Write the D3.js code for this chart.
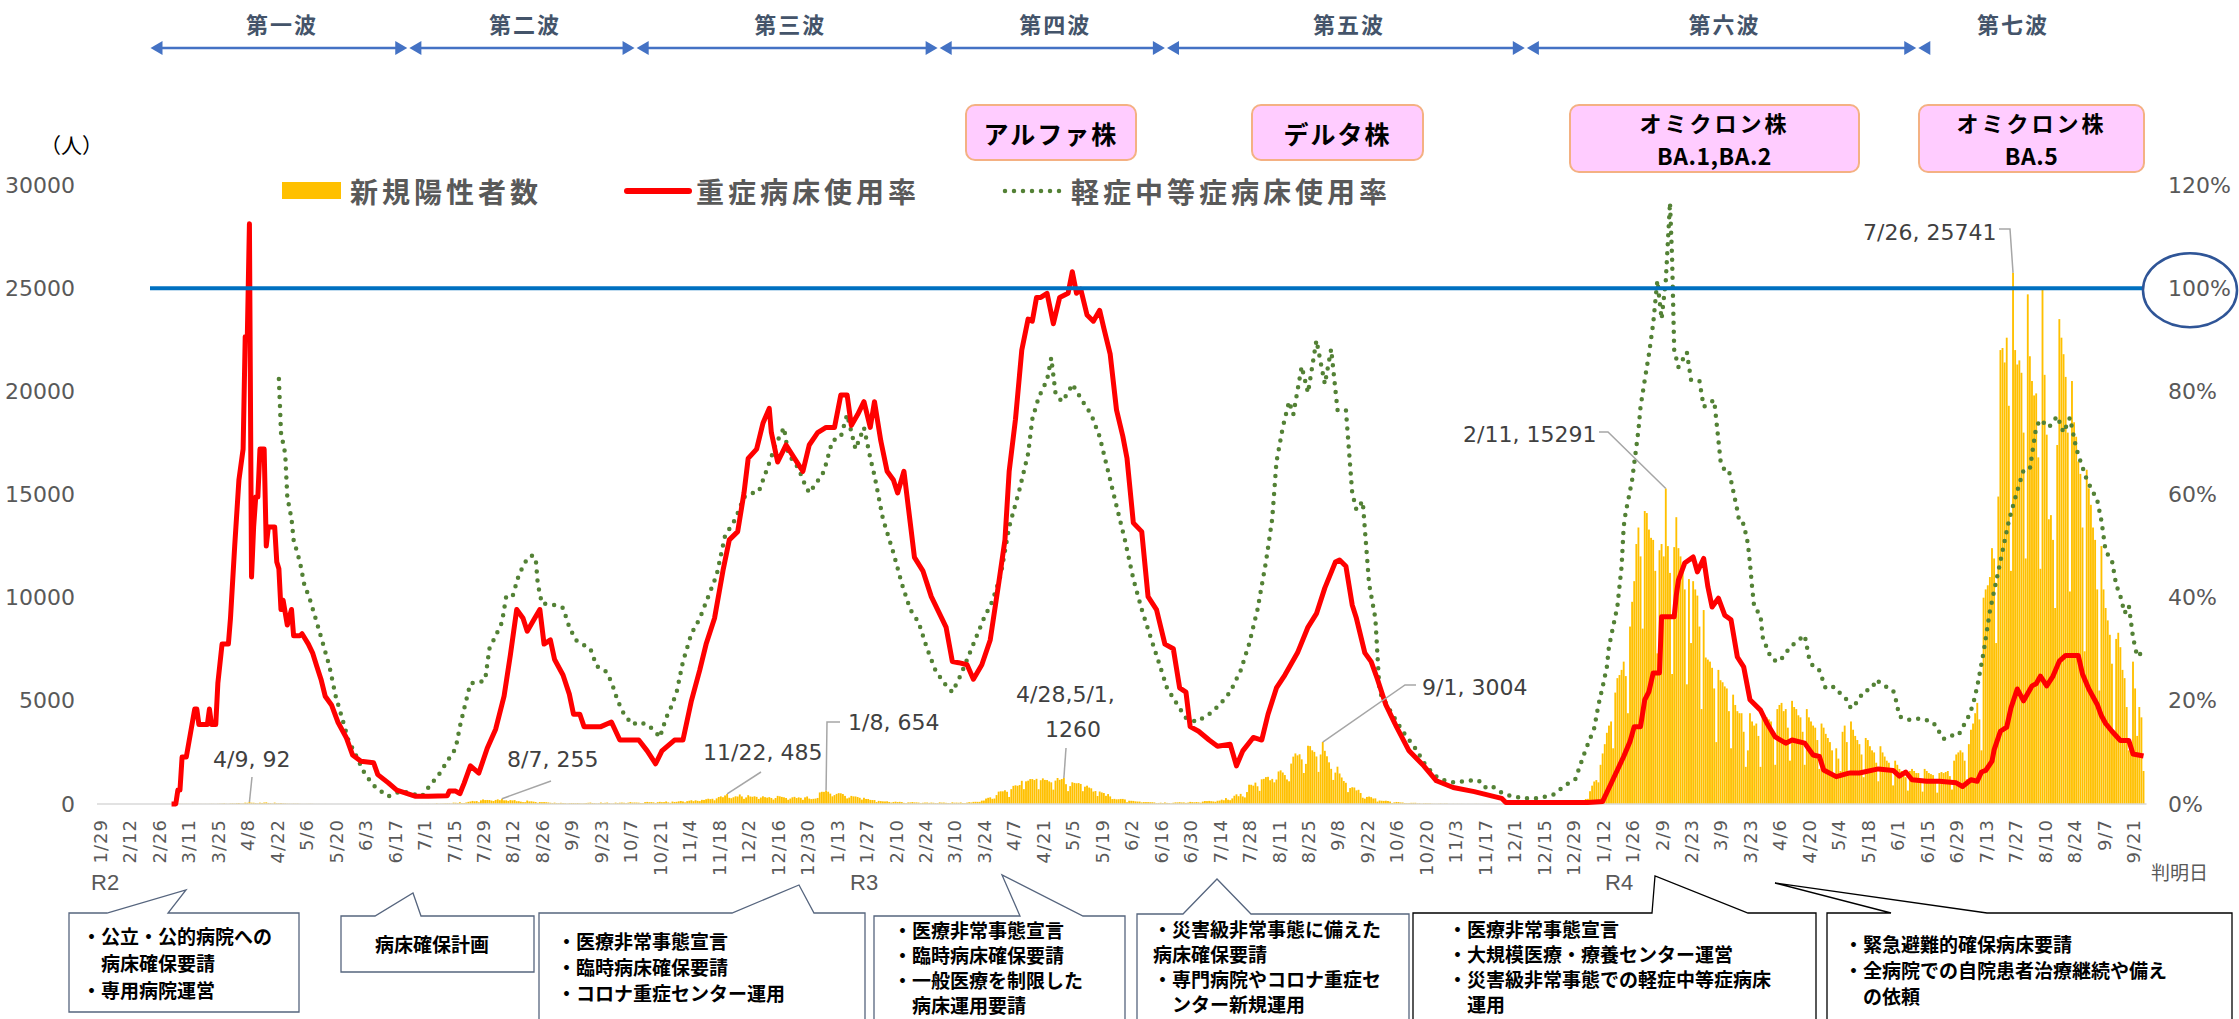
<!DOCTYPE html>
<html>
<head>
<meta charset="utf-8">
<script src="https://cdn.jsdelivr.net/npm/d3@7"></script>
<style>
  body { margin: 0; background: #fff; }
  svg { display: block; }
</style>
</head>
<body>
<div id="root"></div>
<script>
// first day of the daily series, last labelled tick
const firstDay = '2020-01-29';
const lastTick = '2022-09-21';

// 新規陽性者数, daily, one row per week (Wed..Tue) from 2020-01-29
const newCases = [
  1,0,0,0,0,0,0, 0,0,0,0,0,0,0, 0,0,0,0,0,0,0, 0,0,0,0,0,0,0,
  0,0,0,2,2,3,4, 5,8,12,10,7,6,8, 6,5,9,6,3,8,6, 5,6,4,8,12,9,5,
  12,17,20,30,14,11,28, 34,26,41,48,24,27,65, 58,92,62,60,46,34,64, 50,71,80,51,41,23,67,
  38,36,48,30,27,19,17, 14,20,17,18,9,5,4, 6,8,12,9,3,3,4, 1,2,3,1,0,2,0,
  0,2,1,0,0,0,1, 0,0,1,0,0,1,1, 0,2,1,0,0,0,1, 0,1,2,1,3,0,1,
  1,2,2,3,1,2,0, 2,3,5,8,3,6,8, 4,8,12,6,8,9,32, 11,18,21,28,32,30,20,
  66,61,51,87,47,49,72, 104,121,149,130,141,85,177, 221,190,195,194,166,144,196, 225,186,255,178,180,149,187,
  173,188,133,136,112,90,88, 169,126,130,114,98,58,94, 89,92,86,74,60,46,65, 44,40,57,45,38,22,39,
  49,47,39,48,34,26,33, 49,58,69,48,42,27,35, 71,47,57,70,40,25,30, 65,49,63,68,60,40,64,
  92,69,72,70,64,43,41, 90,102,87,92,80,50,88, 106,88,91,124,80,55,118, 99,106,129,147,125,79,137,
  158,181,139,179,153,140,201, 196,231,256,236,253,179,273, 338,370,329,415,485,299,280, 326,372,362,463,367,249,318,
  427,363,349,373,346,246,313, 374,332,308,332,292,214,290, 393,372,343,324,290,207,264, 324,347,289,321,299,203,322,
  364,262,237,250,262,293,560, 592,589,654,595,503,372,431, 490,525,519,482,394,271,310, 392,368,365,337,301,213,302,
  244,244,200,192,190,95,152, 140,128,124,131,100,70,99, 114,94,105,93,56,38,76, 77,94,77,77,68,40,59,
  70,70,54,68,60,46,44, 78,66,69,56,47,43,80, 62,66,59,74,48,40,66, 88,74,103,107,104,104,164,
  168,264,300,323,251,266,432, 599,616,613,666,593,341,719, 878,905,883,918,1124,719,1099, 1130,1208,1209,1161,1220,717,1153,
  1242,1167,1162,1097,1050,696,1134, 1260,1171,1209,1260,961,624,867, 1052,1021,1003,1015,971,621,839, 888,797,760,603,628,386,606,
  560,532,396,482,368,238,248, 227,231,246,246,221,86,159, 156,150,128,119,118,79,92, 92,90,86,85,75,43,51,
  63,49,74,53,45,27,60, 78,77,88,75,76,54,68, 103,91,83,96,82,63,117, 145,140,150,136,125,108,158,
  165,210,182,287,209,185,271, 399,468,378,491,367,319,579, 935,932,889,1036,860,637,1198, 1219,1303,1317,1150,1217,1050,1185,
  1576,1631,1528,1403,1191,1101,1958, 2296,2451,2356,2410,2164,1504,1944, 2824,2806,2602,2526,2303,1556,2400, 3004,2578,2313,2019,1704,1167,1522,
  1809,1479,1286,1113,1028,576,772, 812,799,659,690,532,302,260, 342,360,332,266,273,117,168, 158,150,159,145,117,50,79,
  99,94,74,71,48,39,42, 56,56,58,31,37,17,33, 36,31,32,17,14,11,15, 24,14,21,20,6,5,10,
  5,9,6,8,5,2,6, 4,5,6,9,6,4,5, 8,7,10,4,4,2,4, 6,4,9,6,2,4,9,
  5,6,8,5,4,3,5, 8,7,4,5,5,2,3, 7,9,6,5,10,4,13, 10,8,9,10,7,8,15,
  22,25,38,41,48,103,244, 250,620,890,1090,1160,1050,1900, 2450,2900,3450,3800,4000,2700,5400, 6100,6250,6500,6900,6200,4400,8600,
  9800,10800,12600,13400,12000,8500,14200, 14100,13300,12900,12800,11300,7300,12300, 12600,12000,15291,12500,11200,6300,12450, 13900,12400,12000,11700,10400,5800,10900,
  7800,10800,10400,10100,8600,4600,9400, 7100,7000,6900,6600,5600,3000,6500, 6000,5900,5700,5600,4500,2700,5300, 4800,4500,4400,4400,3500,1800,2600,
  4400,4000,3800,3900,3300,1800,4500, 4300,4200,4100,4000,3400,1900,4600, 4800,4900,4500,4600,3700,2100,5000, 4700,4600,4300,4200,3500,1900,4600,
  4200,4000,3800,3700,3100,1700,3900, 3700,3400,3200,3000,2600,1400,2700, 2200,1600,3500,3800,3000,1500,4000, 3600,3300,3100,2900,2400,1300,3200,
  3100,2800,2600,2500,2000,1100,2800, 2500,2300,2100,2000,1600,900,2100, 1900,1700,1600,1500,1300,650,1600, 1700,1600,1500,1500,1200,600,1700,
  1600,1500,1450,1400,1150,550,1500, 1550,1500,1550,1600,1350,700,2100, 2400,2500,2600,2500,2100,1200,2900, 3600,3900,4400,4900,4100,2600,10000,
  10400,10600,11000,12400,11900,7800,14900, 22000,22100,21400,22600,19300,11300,25741, 22000,21300,21500,20900,18000,11900,24700, 21700,20500,19800,19900,16800,11400,25000,
  20800,17900,13800,14000,12800,9500,17400, 23500,22600,21800,20700,18000,10300,20500, 18500,17800,16600,16000,13400,7400,16200, 15300,14500,13400,12800,10400,5500,12500,
  10400,9500,8900,8200,6800,3300,8000, 8300,7600,6500,6100,4700,2600,3000, 6900,5600,3300,4700,4200,1600
];

// 重症病床使用率 (%)
const severeRate = [
  ['2020-03-03',0],['2020-03-05',0],['2020-03-06',2.7],['2020-03-07',2.7],['2020-03-08',9.1],['2020-03-10',9.1],['2020-03-14',18.4],['2020-03-15',18.4],
  ['2020-03-16',15.4],['2020-03-20',15.4],['2020-03-21',18.4],['2020-03-22',15.4],['2020-03-24',15.4],['2020-03-25',23.4],['2020-03-27',31],['2020-03-30',31],
  ['2020-03-31',36],['2020-04-02',50],['2020-04-04',62.8],['2020-04-06',68.8],['2020-04-07',90.6],['2020-04-08',90.6],['2020-04-09',112.5],['2020-04-10',44],
  ['2020-04-11',53.7],['2020-04-12',59.5],['2020-04-13',59.5],['2020-04-14',68.8],['2020-04-16',68.8],['2020-04-17',50],['2020-04-18',53.7],['2020-04-21',53.7],
  ['2020-04-22',46.9],['2020-04-23',45.6],['2020-04-24',37.7],['2020-04-25',39.5],['2020-04-27',34.7],['2020-04-29',37.7],['2020-04-30',32.6],['2020-05-03',32.6],
  ['2020-05-04',33],['2020-05-07',31],['2020-05-09',29.3],['2020-05-11',26.7],['2020-05-13',24.2],['2020-05-15',20.9],['2020-05-18',19.2],['2020-05-21',15.9],
  ['2020-05-25',12.9],['2020-05-28',9.5],['2020-06-01',8.3],['2020-06-07',8],['2020-06-09',5.7],['2020-06-14',4.1],['2020-06-18',2.7],['2020-06-27',1.5],
  ['2020-07-03',1.5],['2020-07-12',1.6],['2020-07-13',2.5],['2020-07-16',2.5],['2020-07-18',2],['2020-07-20',4],['2020-07-23',7.4],['2020-07-27',6],
  ['2020-07-31',10.8],['2020-08-04',14.5],['2020-08-08',20.9],['2020-08-11',28.9],['2020-08-14',37.7],['2020-08-17',36],['2020-08-19',33.5],['2020-08-22',35.6],
  ['2020-08-25',37.7],['2020-08-27',31],['2020-08-30',31.8],['2020-09-01',28],['2020-09-05',25],['2020-09-08',21.3],['2020-09-10',17.4],['2020-09-13',17.4],
  ['2020-09-15',15],['2020-09-23',15],['2020-09-28',15.9],['2020-10-02',12.4],['2020-10-11',12.4],['2020-10-15',10.3],['2020-10-19',7.8],['2020-10-22',10.3],
  ['2020-10-28',12.4],['2020-11-01',12.4],['2020-11-05',20],['2020-11-09',26],['2020-11-12',31],['2020-11-16',36],['2020-11-20',45.2],['2020-11-23',51.2],
  ['2020-11-27',52.8],['2020-11-30',60.3],['2020-12-02',67],['2020-12-06',68.8],['2020-12-09',73.8],['2020-12-12',76.7],['2020-12-13',72],['2020-12-16',66.3],
  ['2020-12-20',69.6],['2020-12-24',67],['2020-12-28',64.5],['2020-12-31',69.6],['2021-01-04',72],['2021-01-08',73],['2021-01-12',73],['2021-01-15',79.3],
  ['2021-01-18',79.3],['2021-01-20',73.4],['2021-01-23',75.5],['2021-01-26',78],['2021-01-29',73],['2021-01-31',78],['2021-02-03',70.4],['2021-02-06',64.5],
  ['2021-02-09',62.8],['2021-02-11',60.3],['2021-02-14',64.5],['2021-02-17',54.5],['2021-02-19',47.8],['2021-02-23',45.2],['2021-02-27',40.2],['2021-03-04',36],
  ['2021-03-06',34.3],['2021-03-09',27.6],['2021-03-12',27.4],['2021-03-16',27],['2021-03-19',24.2],['2021-03-23',27],['2021-03-27',31.8],['2021-03-31',42.7],
  ['2021-04-03',51.2],['2021-04-05',64.5],['2021-04-08',74.6],['2021-04-11',88],['2021-04-14',94],['2021-04-16',93.6],['2021-04-18',98.2],['2021-04-20',98.2],
  ['2021-04-23',99],['2021-04-26',93.1],['2021-04-29',98.2],['2021-05-03',99],['2021-05-05',103.2],['2021-05-07',99],['2021-05-09',99.8],['2021-05-12',94.8],
  ['2021-05-15',93.6],['2021-05-18',95.7],['2021-05-20',92.2],['2021-05-23',87.2],['2021-05-26',76.4],['2021-05-29',71.3],['2021-05-31',67],['2021-06-03',54.5],
  ['2021-06-07',52.8],['2021-06-10',40.2],['2021-06-14',37.7],['2021-06-18',31],['2021-06-22',30.1],['2021-06-25',22.5],['2021-06-28',21.7],['2021-06-30',15],
  ['2021-07-04',14.1],['2021-07-09',12.4],['2021-07-13',11.2],['2021-07-19',11.6],['2021-07-22',7.4],['2021-07-25',10.3],['2021-07-30',12.9],['2021-08-03',12.4],
  ['2021-08-06',17.4],['2021-08-10',22.5],['2021-08-14',25],['2021-08-20',29.3],['2021-08-25',34.3],['2021-08-29',36.9],['2021-09-02',41.9],['2021-09-07',46.9],
  ['2021-09-09',47.3],['2021-09-12',46.1],['2021-09-15',38.6],['2021-09-17',36],['2021-09-21',29.3],['2021-09-24',27.6],['2021-09-27',24.2],['2021-10-01',19.2],
  ['2021-10-06',15],['2021-10-12',10.3],['2021-10-19',7.4],['2021-10-25',4.5],['2021-11-02',3.2],['2021-11-12',2.4],['2021-11-25',1.1],['2021-11-27',0.3],
  ['2021-12-18',0.3],['2022-01-05',0.3],['2022-01-12',0.5],['2022-01-15',3.1],['2022-01-19',6.6],['2022-01-22',9.2],['2022-01-25',12.1],['2022-01-27',15],
  ['2022-01-30',15],['2022-02-01',20.2],['2022-02-03',21.8],['2022-02-05',25.4],['2022-02-08',25.4],['2022-02-09',36.3],['2022-02-15',36.3],['2022-02-16',40.5],
  ['2022-02-17',43.4],['2022-02-20',46.7],['2022-02-24',47.9],['2022-02-26',45],['2022-03-01',47.6],['2022-03-03',42.1],['2022-03-05',38.2],['2022-03-08',39.9],
  ['2022-03-11',36.6],['2022-03-14',35.7],['2022-03-17',28.5],['2022-03-20',26.6],['2022-03-23',20.2],['2022-03-28',18.2],['2022-03-31',15.7],['2022-04-04',13],
  ['2022-04-09',11.8],['2022-04-12',12.4],['2022-04-18',11.8],['2022-04-22',9.5],['2022-04-25',9.2],['2022-04-27',6.6],['2022-05-03',5.3],['2022-05-09',6],
  ['2022-05-14',6],['2022-05-23',6.8],['2022-05-30',6.5],['2022-06-02',5.4],['2022-06-05',6.2],['2022-06-08',4.7],['2022-06-15',4.4],['2022-06-21',4.4],
  ['2022-06-29',4.1],['2022-07-02',3.4],['2022-07-06',4.7],['2022-07-09',4.4],['2022-07-11',6.2],['2022-07-13',6.5],['2022-07-16',8.3],['2022-07-17',10.5],
  ['2022-07-20',14.1],['2022-07-23',14.9],['2022-07-25',18.6],['2022-07-28',22.3],['2022-07-31',20],['2022-08-04',22.9],['2022-08-06',23.3],['2022-08-08',24.8],
  ['2022-08-11',22.9],['2022-08-14',24.8],['2022-08-17',27.7],['2022-08-20',28.8],['2022-08-23',28.8],['2022-08-26',28.8],['2022-08-28',25.2],['2022-08-31',22.3],
  ['2022-09-04',19.3],['2022-09-06',17.1],['2022-09-08',15.6],['2022-09-11',14.1],['2022-09-15',12.3],['2022-09-19',12.3],['2022-09-21',9.7],['2022-09-26',9.3]
];

// 軽症中等症病床使用率 (%)
const mildRate = [
  ['2020-04-23',82.4],['2020-04-24',72],['2020-04-26',67.9],['2020-04-27',59.5],['2020-04-29',55.3],['2020-04-30',51.2],['2020-05-03',46.9],['2020-05-05',42.7],
  ['2020-05-08',39.3],['2020-05-11',35.2],['2020-05-14',31],['2020-05-17',26.7],['2020-05-20',20.9],['2020-05-23',16.7],['2020-05-26',12.4],['2020-05-30',9.1],
  ['2020-06-03',5.7],['2020-06-08',3.2],['2020-06-14',1.5],['2020-06-20',2.5],['2020-06-25',2],['2020-06-30',1.5],['2020-07-03',3.2],['2020-07-08',5.7],
  ['2020-07-12',8.3],['2020-07-16',10.8],['2020-07-18',15],['2020-07-20',18.4],['2020-07-23',23.4],['2020-07-27',23.6],['2020-07-30',24],['2020-08-01',30.1],
  ['2020-08-04',32.6],['2020-08-07',35.2],['2020-08-09',40.2],['2020-08-12',40.2],['2020-08-15',44.4],['2020-08-18',46.9],['2020-08-21',48.2],['2020-08-23',47.7],
  ['2020-08-24',42.7],['2020-08-26',38.8],['2020-08-29',38.8],['2020-09-02',38.5],['2020-09-05',38],['2020-09-08',34.3],['2020-09-11',31.8],['2020-09-14',31],
  ['2020-09-18',30.1],['2020-09-21',26.7],['2020-09-25',25.9],['2020-09-28',23.7],['2020-10-01',20],['2020-10-04',17.4],['2020-10-08',15.4],['2020-10-11',15.9],
  ['2020-10-15',15.4],['2020-10-19',14],['2020-10-21',12.9],['2020-10-24',16.7],['2020-10-26',18.4],['2020-10-29',21.7],['2020-11-01',27.6],['2020-11-05',33],
  ['2020-11-09',36],['2020-11-13',40.2],['2020-11-17',44.4],['2020-11-21',52],['2020-11-26',55.3],['2020-11-30',59.5],['2020-12-04',60.3],['2020-12-07',60.5],
  ['2020-12-11',65],['2020-12-15',69.6],['2020-12-19',73],['2020-12-21',67.9],['2020-12-26',65],['2020-12-28',62.8],['2020-12-31',60.3],['2021-01-03',62],
  ['2021-01-07',64.5],['2021-01-11',70.4],['2021-01-15',71.2],['2021-01-18',75.5],['2021-01-22',68.8],['2021-01-26',73],['2021-01-29',67.1],['2021-01-31',63.7],
  ['2021-02-04',55.3],['2021-02-09',48.7],['2021-02-13',42.7],['2021-02-17',37.7],['2021-02-21',35.2],['2021-02-25',30.1],['2021-03-01',25.9],['2021-03-05',23.5],
  ['2021-03-09',21.7],['2021-03-13',25],['2021-03-19',31],['2021-03-24',36],['2021-03-28',39.3],['2021-04-01',44.4],['2021-04-05',53.7],['2021-04-10',61.1],
  ['2021-04-14',67.9],['2021-04-16',74.6],['2021-04-19',78.8],['2021-04-23',82.2],['2021-04-25',86.5],['2021-04-27',79.7],['2021-04-30',78],['2021-05-03',79.7],
  ['2021-05-05',81.4],['2021-05-10',78],['2021-05-14',75.5],['2021-05-18',71.2],['2021-05-22',64.5],['2021-05-26',57.8],['2021-05-30',51.2],['2021-06-03',43.6],
  ['2021-06-07',37.7],['2021-06-11',32.6],['2021-06-15',27.6],['2021-06-19',22.5],['2021-06-24',19.2],['2021-06-28',16.7],['2021-07-03',15.9],['2021-07-09',17.4],
  ['2021-07-14',19.2],['2021-07-19',21.7],['2021-07-24',25.9],['2021-07-28',31],['2021-08-01',37.7],['2021-08-05',46.9],['2021-08-08',55.3],['2021-08-10',66.3],
  ['2021-08-13',73],['2021-08-16',78],['2021-08-18',75.5],['2021-08-22',84.8],['2021-08-25',79.7],['2021-08-29',89.9],['2021-09-02',81.4],['2021-09-05',88.2],
  ['2021-09-08',76.4],['2021-09-12',76.4],['2021-09-15',60.3],['2021-09-17',57],['2021-09-20',58.7],['2021-09-23',42.7],['2021-09-26',36],['2021-09-28',21.7],
  ['2021-10-04',17.4],['2021-10-09',14.1],['2021-10-15',10.8],['2021-10-20',7.4],['2021-10-26',4.9],['2021-11-03',4.1],['2021-11-08',4.5],['2021-11-14',4.6],
  ['2021-11-17',3.2],['2021-11-20',3.6],['2021-11-26',1.9],['2021-12-05',1.1],['2021-12-13',1.1],['2021-12-20',1.9],['2021-12-25',3.6],['2021-12-30',4.8],
  ['2022-01-02',8.3],['2022-01-04',10.6],['2022-01-08',14.7],['2022-01-10',19.2],['2022-01-12',22.7],['2022-01-14',26.6],['2022-01-15',30.5],['2022-01-17',34.4],
  ['2022-01-19',38.3],['2022-01-20',42.2],['2022-01-21',46],['2022-01-22',53.8],['2022-01-23',56.7],['2022-01-24',58.6],['2022-01-26',62.8],['2022-01-27',66],
  ['2022-01-28',69.2],['2022-01-29',72.5],['2022-01-30',77],['2022-02-01',82.2],['2022-02-03',87.2],['2022-02-05',93.1],['2022-02-07',101.5],['2022-02-09',94],
  ['2022-02-11',101.5],['2022-02-13',116.6],['2022-02-14',105.7],['2022-02-15',88],['2022-02-17',84.7],['2022-02-21',87.6],['2022-02-23',82.2],['2022-02-27',82],
  ['2022-03-01',77],['2022-03-06',78.3],['2022-03-07',74.4],['2022-03-08',70.5],['2022-03-09',66.6],['2022-03-11',64.6],['2022-03-13',64.6],['2022-03-15',60.8],
  ['2022-03-17',56.9],['2022-03-18',54.6],['2022-03-20',54.3],['2022-03-22',50.5],['2022-03-23',46.6],['2022-03-24',42.1],['2022-03-25',38.2],['2022-03-28',36.6],
  ['2022-03-29',32.4],['2022-04-01',29.2],['2022-04-03',27.9],['2022-04-06',27.6],['2022-04-10',29.8],['2022-04-13',31.1],['2022-04-18',32.7],['2022-04-20',28.5],
  ['2022-04-22',26.6],['2022-04-25',25.9],['2022-04-28',22.4],['2022-05-02',22.7],['2022-05-05',21.4],['2022-05-08',20.2],['2022-05-10',18.5],['2022-05-13',19.8],
  ['2022-05-16',21.8],['2022-05-20',22.4],['2022-05-22',24.1],['2022-05-25',23.1],['2022-05-30',22],['2022-05-31',20.8],['2022-06-02',17],['2022-06-06',16.3],
  ['2022-06-12',16.6],['2022-06-18',15.9],['2022-06-23',12.6],['2022-06-26',13.3],['2022-06-30',13.3],['2022-07-05',17.1],['2022-07-07',19.3],['2022-07-09',22.8],
  ['2022-07-12',29.4],['2022-07-15',37.4],['2022-07-18',43.2],['2022-07-21',49],['2022-07-24',54.9],['2022-07-28',60.7],['2022-07-31',64.7],['2022-08-03',65],
  ['2022-08-06',73.1],['2022-08-08',74.5],['2022-08-12',73],['2022-08-16',75.2],['2022-08-19',72],['2022-08-22',74.9],['2022-08-25',69],['2022-08-27',66.5],
  ['2022-08-30',62.9],['2022-09-04',58.9],['2022-09-06',54.9],['2022-09-08',49],['2022-09-11',47.2],['2022-09-13',42.5],['2022-09-15',40.3],['2022-09-17',37],
  ['2022-09-19',38.5],['2022-09-21',32.3],['2022-09-23',28.6],['2022-09-25',29.3]
];

const yTicks = [0, 5000, 10000, 15000, 20000, 25000, 30000];
const rateTicks = [0, 20, 40, 60, 80, 100, 120];
const capacityLine = 25000;   // = 100%

// waves: start, end, label
const waves = [
  ['2020-02-22', '2020-06-23', '第一波'],
  ['2020-06-24', '2020-10-09', '第二波'],
  ['2020-10-10', '2021-03-02', '第三波'],
  ['2021-03-03', '2021-06-18', '第四波'],
  ['2021-06-19', '2021-12-06', '第五波'],
  ['2021-12-07', '2022-06-10', '第六波'],
  ['2022-06-11', '2022-09-26', '第七波']
];

const strains = [['アルファ株'], ['デルタ株'], ['オミクロン株', 'BA.1,BA.2'], ['オミクロン株', 'BA.5']];

const legendNames = ['新規陽性者数', '重症病床使用率', '軽症中等症病床使用率'];

// peak annotations: date, value, label lines
const peaks = [
  ['2020-04-09', 92, ['4/9, 92']],
  ['2020-08-07', 255, ['8/7, 255']],
  ['2020-11-22', 485, ['11/22, 485']],
  ['2021-01-08', 654, ['1/8, 654']],
  ['2021-05-01', 1260, ['4/28,5/1,', '1260']],
  ['2021-09-01', 3004, ['9/1, 3004']],
  ['2022-02-11', 15291, ['2/11, 15291']],
  ['2022-07-26', 25741, ['7/26, 25741']]
];

const measures = [
  ['・公立・公的病院への', '　病床確保要請', '・専用病院運営'],
  ['病床確保計画'],
  ['・医療非常事態宣言', '・臨時病床確保要請', '・コロナ重症センター運用'],
  ['・医療非常事態宣言', '・臨時病床確保要請', '・一般医療を制限した', '　病床運用要請'],
  ['・災害級非常事態に備えた', '病床確保要請', '・専門病院やコロナ重症セ', '　ンター新規運用'],
  ['・医療非常事態宣言', '・大規模医療・療養センター運営', '・災害級非常事態での軽症中等症病床', '　運用'],
  ['・緊急避難的確保病床要請', '・全病院での自院患者治療継続や備え', '　の依頼']
];

const eraLabels = ['R2', 'R3', 'R4'];

// ---------------------------------------------------------------
const W = 2239, H = 1019;
const JP = '"Noto Sans CJK JP", sans-serif';
const NUM = '"DejaVu Sans", Verdana, sans-serif';
const gray = '#595959';

const parse = d3.utcParse('%Y-%m-%d');
const fmt = d3.utcFormat('%-m/%-d');
const day0 = parse(firstDay);

const svg = d3.select('#root')
  .append('svg')
  .attr('width', W)
  .attr('height', H);

const x = d3.scaleUtc().domain([day0, parse(lastTick)]).range([100, 2133]);
const y = d3.scaleLinear().domain([0, 30000]).range([804, 185]);
const yR = d3.scaleLinear().domain([0, 120]).range([804, 185]);

// Bars
const days = newCases.map((v, i) => ({ date: d3.utcDay.offset(day0, i), v }));
const step = x(d3.utcDay.offset(day0, 1)) - x(day0);
const bw = step * 0.88;

svg.append('g')
  .selectAll('rect')
  .data(days)
  .join('rect')
  .attr('x', d => x(d.date) - bw / 2)
  .attr('y', d => y(d.v))
  .attr('width', bw)
  .attr('height', d => y(0) - y(d.v))
  .attr('fill', '#FFC000');

// baseline
const lastDay = days[days.length - 1].date;
svg.append('line')
  .attr('x1', x(day0) - 3).attr('x2', x(lastDay) + 3)
  .attr('y1', y(0)).attr('y2', y(0))
  .attr('stroke', '#D9D9D9').attr('stroke-width', 1.5);

// Lines
const line = d3.line().x(d => x(parse(d[0]))).y(d => yR(d[1]));

svg.append('path')
  .datum(mildRate)
  .attr('d', line)
  .attr('fill', 'none')
  .attr('stroke', '#538135')
  .attr('stroke-width', 4.5)
  .attr('stroke-linecap', 'round')
  .attr('stroke-dasharray', '0 9');

svg.append('path')
  .datum(severeRate)
  .attr('d', line)
  .attr('fill', 'none')
  .attr('stroke', '#FF0000')
  .attr('stroke-width', 5)
  .attr('stroke-linejoin', 'round');

// 100% line + circle
svg.append('line')
  .attr('x1', 150).attr('x2', 2144)
  .attr('y1', y(capacityLine)).attr('y2', y(capacityLine))
  .attr('stroke', '#0070C0').attr('stroke-width', 4);

svg.append('ellipse')
  .attr('cx', 2190).attr('cy', y(capacityLine) + 2)
  .attr('rx', 47).attr('ry', 37)
  .attr('fill', 'none').attr('stroke', '#2F5597').attr('stroke-width', 2.5);

// Axes
const yAxis = svg.append('g')
  .attr('transform', 'translate(75,0)')
  .call(d3.axisLeft(y).tickValues(yTicks).tickSize(0).tickPadding(0).tickFormat(d3.format('d')));
const yAxisR = svg.append('g')
  .attr('transform', 'translate(2168,0)')
  .call(d3.axisRight(yR).tickValues(rateTicks).tickSize(0).tickPadding(0).tickFormat(d => d + '%'));

[yAxis, yAxisR].forEach(g => {
  g.select('.domain').remove();
  g.selectAll('text')
    .attr('fill', gray)
    .style('font-family', NUM)
    .style('font-size', '22px');
});

const tickDates = d3.utcDay.range(day0, d3.utcDay.offset(parse(lastTick), 1), 14);
const xAxis = svg.append('g')
  .attr('transform', `translate(0,${y(0)})`)
  .call(d3.axisBottom(x).tickValues(tickDates).tickFormat(fmt).tickSize(0));
xAxis.select('.domain').remove();
xAxis.selectAll('text')
  .attr('y', 0)
  .attr('dy', '0.36em')
  .attr('transform', 'translate(0,15) rotate(-90)')
  .attr('text-anchor', 'end')
  .attr('fill', gray)
  .style('font-family', NUM)
  .style('font-size', '18px')
  .style('letter-spacing', '1px');

svg.append('text')
  .attr('x', 2151).attr('y', 880)
  .attr('fill', gray)
  .style('font-family', JP).style('font-size', '19px')
  .text('判明日');

svg.selectAll('.era')
  .data(eraLabels)
  .join('text')
  .attr('x', (d, i) => [91, 850, 1605][i])
  .attr('y', 890)
  .attr('fill', gray)
  .style('font-family', '"Liberation Sans Narrow", "Liberation Sans", sans-serif')
  .style('font-size', '22px')
  .text(d => d);

svg.append('text')
  .attr('x', 40).attr('y', 144)
  .attr('dominant-baseline', 'central')
  .attr('fill', '#000')
  .style('font-family', JP).style('font-size', '21px')
  .text('（人）');

// Legend
const lg = svg.append('g').style('font-family', JP);
lg.append('rect').attr('x', 282).attr('y', 182).attr('width', 59).attr('height', 17).attr('fill', '#FFC000');
lg.append('line').attr('x1', 627).attr('x2', 689).attr('y1', 191).attr('y2', 191)
  .attr('stroke', '#FF0000').attr('stroke-width', 6).attr('stroke-linecap', 'round');
lg.append('line').attr('x1', 1005).attr('x2', 1064).attr('y1', 191).attr('y2', 191)
  .attr('stroke', '#538135').attr('stroke-width', 4.5).attr('stroke-linecap', 'round').attr('stroke-dasharray', '0 9');
lg.selectAll('text')
  .data(legendNames)
  .join('text')
  .attr('x', (d, i) => [350, 696, 1071][i])
  .attr('y', 191)
  .attr('dominant-baseline', 'central')
  .attr('fill', gray)
  .style('font-weight', 700)
  .style('font-size', '28px')
  .style('letter-spacing', '4px')
  .text(d => d);

// Waves
const wg = svg.append('g');
const defs = svg.append('defs');
const fade = defs.append('linearGradient').attr('id', 'fade');
fade.append('stop').attr('offset', '0%').attr('stop-color', '#4472C4');
fade.append('stop').attr('offset', '100%').attr('stop-color', '#9DB5E0');

waves.forEach(([s, e, label], i) => {
  const xs = x(parse(s)), xe = x(parse(e));
  const last = i === waves.length - 1;
  wg.append('line')
    .attr('x1', xs + 4).attr('x2', last ? xe : xe - 4)
    .attr('y1', 48).attr('y2', 48)
    .attr('stroke', last ? 'url(#fade)' : '#4472C4')
    .attr('stroke-width', 2.5);
  wg.append('path')
    .attr('d', `M${xs},48 L${xs + 12},41 L${xs + 12},55 Z`)
    .attr('fill', '#4472C4');
  if (!last) {
    wg.append('path')
      .attr('d', `M${xe},48 L${xe - 12},41 L${xe - 12},55 Z`)
      .attr('fill', '#4472C4');
  }
  wg.append('text')
    .attr('x', (xs + xe) / 2 + (last ? -18 : 3))
    .attr('y', 23)
    .attr('text-anchor', 'middle')
    .attr('dominant-baseline', 'central')
    .attr('fill', '#44546A')
    .style('font-family', JP).style('font-weight', 700).style('font-size', '22px')
    .style('letter-spacing', '2px')
    .text(label);
});

// Strain boxes
const boxPos = [[966, 105, 170, 55], [1252, 105, 171, 55], [1570, 105, 289, 67], [1919, 105, 225, 67]];
strains.forEach((lines, i) => {
  const [bx, by, bw2, bh] = boxPos[i];
  svg.append('rect')
    .attr('x', bx).attr('y', by).attr('width', bw2).attr('height', bh)
    .attr('rx', 9)
    .attr('fill', '#FFCCFF').attr('stroke', '#F4B183').attr('stroke-width', 2);
  lines.forEach((t, j) => {
    const two = lines.length > 1;
    svg.append('text')
      .attr('x', bx + bw2 / 2)
      .attr('y', two ? by + 17 + j * 33 : by + bh / 2)
      .attr('text-anchor', 'middle')
      .attr('dominant-baseline', 'central')
      .attr('fill', '#000')
      .style('font-family', JP).style('font-weight', 700)
      .style('font-size', two ? (j === 0 ? '22px' : '23px') : '25px')
      .style('letter-spacing', two ? (j === 0 ? '3px' : '0.5px') : '2px')
      .text(t);
  });
});

// Peak labels with leader lines
const labelPos = [
  { t: [213, 759], lead: [[252, 777]] },
  { t: [507, 759], lead: [[551, 781]] },
  { t: [703, 752], lead: [[761, 772]] },
  { t: [848, 722], lead: [[840, 722], [827, 722]] },
  { t: [1016, 694], lead: [[1066, 748]], second: [1045, 729] },
  { t: [1422, 687], lead: [[1416, 685], [1405, 685]] },
  { t: [1463, 434], lead: [[1599, 432], [1608, 432]] },
  { t: [1863, 232], lead: [[1999, 229], [2010, 229]] }
];
peaks.forEach(([date, v, lines], i) => {
  const p = labelPos[i];
  const pts = p.lead.concat([[x(parse(date)), y(v)]]);
  svg.append('path')
    .attr('d', d3.line()(pts))
    .attr('fill', 'none').attr('stroke', '#A6A6A6').attr('stroke-width', 1.5);
  lines.forEach((t, j) => {
    const pos = j === 0 ? p.t : p.second;
    svg.append('text')
      .attr('x', pos[0]).attr('y', pos[1])
      .attr('dominant-baseline', 'central')
      .attr('fill', '#404040')
      .style('font-family', NUM).style('font-size', '22px')
      .text(t);
  });
});

// Callouts
const callouts = [
  { box: [69, 913, 299, 1012], tip: [186, 890], base: [107, 168], stroke: '#56657E', tx: 82, ty: [935, 962, 989] },
  { box: [341, 916, 534, 972], tip: [413, 893], base: [375, 421], stroke: '#56657E', tx: 375, ty: [943] },
  { box: [539, 913, 865, 1030], tip: [799, 885], base: [732, 814], stroke: '#56657E', tx: 557, ty: [940, 966, 992] },
  { box: [874, 916, 1125, 1030], tip: [1002, 875], base: [1020, 1083], stroke: '#56657E', tx: 893, ty: [929, 954, 979, 1004] },
  { box: [1137, 914, 1409, 1030], tip: [1217, 879], base: [1183, 1251], stroke: '#56657E', tx: 1153, ty: [928, 953, 978, 1003] },
  { box: [1413, 913, 1816, 1030], tip: [1655, 876], base: [1652, 1748], stroke: '#000', tx: 1448, ty: [928, 953, 978, 1003] },
  { box: [1827, 913, 2232, 1030], tip: [1775, 883], base: [1891, 1987], stroke: '#000', tx: 1844, ty: [943, 969, 995] }
];
callouts.forEach((c, i) => {
  const [x0, y0, x1, y1] = c.box;
  svg.append('path')
    .attr('d', `M${x0},${y0} L${c.base[0]},${y0} L${c.tip[0]},${c.tip[1]} L${c.base[1]},${y0} L${x1},${y0} L${x1},${y1} L${x0},${y1} Z`)
    .attr('fill', '#fff').attr('stroke', c.stroke).attr('stroke-width', 1.3);
  measures[i].forEach((t, j) => {
    svg.append('text')
      .attr('x', c.tx).attr('y', c.ty[j])
      .attr('dominant-baseline', 'central')
      .attr('fill', '#000')
      .style('font-family', JP).style('font-weight', 700).style('font-size', '19px')
      .text(t);
  });
});
</script>
</body>
</html>
